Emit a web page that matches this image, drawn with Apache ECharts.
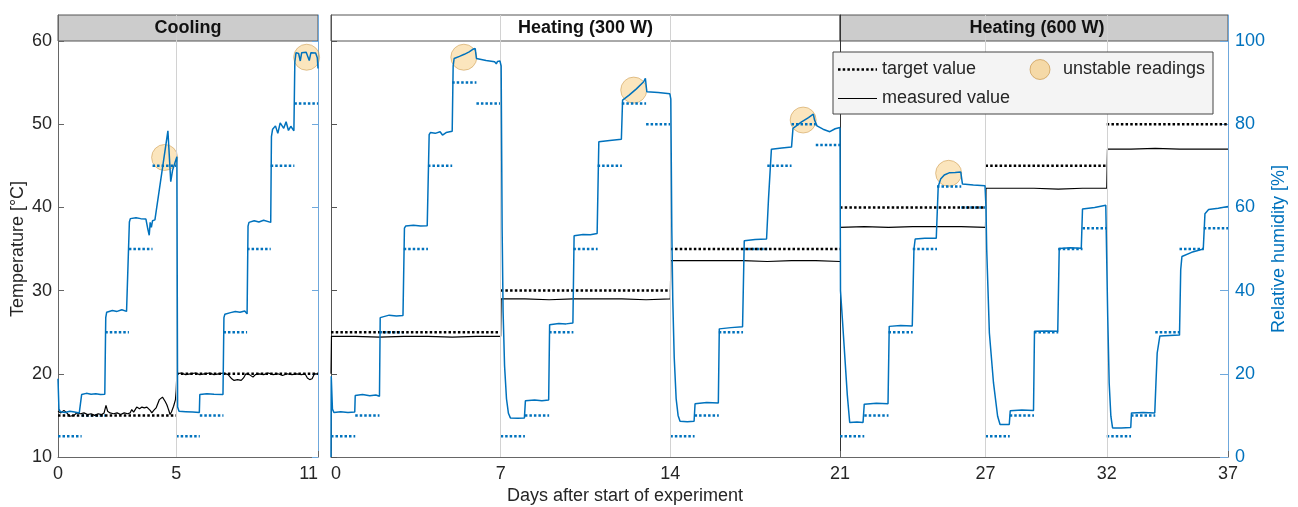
<!DOCTYPE html>
<html>
<head>
<meta charset="utf-8">
<script src="https://cdn.jsdelivr.net/npm/echarts@6/dist/echarts.min.js"></script>
<style>
  html, body { margin: 0; padding: 0; background: #fff; }
  #chart { width: 1298px; height: 507px; }
</style>
</head>
<body>
<div id="chart"></div>
<script>
// ---------------- data ----------------
// temperature set points: [startDay, endDay, °C]
const coolTempTarget = [[0, 5, 15], [5, 11, 20]];
const heat300TempTarget = [[0, 7, 25], [7, 14, 30], [14, 21, 35]];
const heat600TempTarget = [[21, 27, 40], [27, 32, 45], [32, 37, 50]];

// humidity set points, one value per day
const coolHumTarget = [5, 10, 30, 50, 70, 5, 10, 30, 50, 70, 85];                       // from day 0
const heat300HumTarget = [5, 10, 30, 50, 70, 90, 85, 5, 10, 30, 50, 70, 85, 80, 5, 10, 30, 50, 70, 80, 75]; // from day 0
const heat600HumTarget = [5, 10, 30, 50, 65, 60, 5, 10, 30, 50, 55, 5, 10, 30, 50, 55];  // from day 21
const heat600StartDay = 21;

// measured temperature [day, °C]
const coolTempMeasured = [
  [0, 15.5], [0.12, 15.3], [0.25, 15.6], [0.37, 15.3], [0.5, 14.9], [0.58, 14.7], [0.68, 15.0], [0.79, 15.3],
  [0.95, 15.2], [1.1, 15.3], [1.25, 15.1], [1.4, 15.2], [1.55, 15.0], [1.7, 15.2], [1.85, 15.1], [1.95, 15.3],
  [2.03, 16.2], [2.1, 15.5], [2.2, 15.3], [2.35, 15.2], [2.5, 15.3], [2.65, 15.1], [2.8, 15.3], [2.95, 15.2],
  [3.05, 15.3], [3.12, 15.7], [3.2, 15.4], [3.33, 16.0], [3.45, 15.8], [3.55, 16.0], [3.65, 15.9], [3.76, 16.0],
  [3.83, 16.2], [3.9, 15.6], [3.97, 15.3], [4.05, 15.6], [4.15, 15.9], [4.22, 15.8], [4.29, 16.9], [4.36, 17.1],
  [4.42, 17.2], [4.48, 17.0], [4.53, 16.7], [4.6, 16.3], [4.64, 16.0], [4.7, 15.5], [4.74, 15.1], [4.8, 15.4],
  [4.89, 16.1], [4.97, 16.9], [5.0, 18.0], [5.03, 20.0], [5.2, 20.1], [5.4, 19.9], [5.6, 20.0], [5.8, 20.1],
  [6.0, 19.9], [6.2, 20.0], [6.4, 20.1], [6.6, 19.9], [6.8, 20.0], [7.0, 20.1], [7.2, 19.9], [7.35, 19.4],
  [7.45, 19.2], [7.6, 19.3], [7.75, 19.2], [7.85, 19.5], [7.95, 20.0], [8.1, 19.9], [8.25, 19.6], [8.35, 19.9],
  [8.5, 20.0], [8.7, 19.9], [8.9, 20.1], [9.1, 19.9], [9.3, 20.0], [9.5, 19.8], [9.7, 20.0], [9.9, 19.9],
  [10.1, 20.0], [10.3, 19.9], [10.45, 20.0], [10.55, 19.5], [10.65, 19.3], [10.75, 19.4], [10.85, 20.0], [11, 20.0]
];
const heat300TempMeasured = [
  [0, 20.0], [0.02, 24.5], [1, 24.5], [2, 24.4], [3, 24.5], [4, 24.5], [5, 24.4], [6, 24.5], [7, 24.5],
  [7.02, 29.0], [8, 29.0], [9, 28.9], [10, 29.0], [11, 29.0], [12, 29.0], [13, 28.9], [14, 29.0],
  [14.02, 33.6], [15, 33.6], [16, 33.6], [17, 33.6], [18, 33.5], [19, 33.6], [20, 33.6], [21, 33.5]
];
const heat600TempMeasured = [
  [21, 37.6], [21.01, 37.7], [22, 37.7], [23, 37.6], [24, 37.7], [25, 37.7], [26, 37.7], [27, 37.6],
  [27.02, 42.3], [28, 42.3], [29, 42.3], [30, 42.2], [31, 42.3], [32, 42.3],
  [32.03, 47.0], [33, 47.0], [34, 47.1], [35, 47.0], [36, 47.0], [37, 47.0]
];

// measured relative humidity [day, %]
const coolHumMeasured = [
  [0, 18.8], [0.04, 11.5], [0.1, 10.9], [0.3, 10.7], [0.5, 11.0], [0.7, 10.8], [0.9, 10.6], [0.98, 10.8],
  [1.0, 15.0], [1.2, 15.3], [1.4, 15.1], [1.6, 15.2], [1.8, 15.0], [1.98, 15.1],
  [2.02, 33.5], [2.06, 34.8], [2.3, 35.2], [2.5, 35.0], [2.7, 35.4], [2.9, 35.0], [2.98, 34.6],
  [3.02, 56.5], [3.06, 57.3], [3.3, 57.5], [3.5, 57.3], [3.72, 57.2], [3.8, 54.8], [3.86, 53.3], [3.9, 56.4],
  [3.95, 55.2], [4.0, 56.8], [4.1, 57.0], [4.65, 78.4], [4.77, 66.2], [4.85, 69.0], [5.03, 72.2],
  [5.06, 12.0], [5.12, 11.0], [5.4, 10.9], [5.7, 10.8], [5.98, 10.7],
  [6.0, 15.0], [6.3, 15.2], [6.6, 15.1], [6.98, 15.0],
  [7.02, 33.5], [7.06, 34.3], [7.3, 34.7], [7.5, 35.0], [7.7, 34.8], [7.9, 35.1], [8.0, 34.4],
  [8.04, 55.5], [8.08, 56.4], [8.3, 56.8], [8.5, 56.5], [8.7, 56.9], [9.0, 56.4],
  [9.03, 77.0], [9.08, 78.8], [9.2, 79.6], [9.3, 77.8], [9.4, 80.3], [9.55, 79.0], [9.65, 80.6], [9.75, 78.5],
  [9.85, 79.5], [9.98, 78.4],
  [10.02, 95.0], [10.07, 97.2], [10.18, 97.0], [10.25, 95.2], [10.31, 97.2], [10.5, 97.3], [10.63, 95.3],
  [10.7, 97.2], [10.9, 97.1], [10.97, 96.0], [11.0, 93.4]
];
const heat300HumMeasured = [
  [0, 0], [0.01, 19.4], [0.06, 11.5], [0.12, 10.7], [0.4, 10.9], [0.7, 10.7], [0.98, 10.8],
  [1.0, 14.8], [1.3, 15.0], [1.6, 14.7], [1.85, 14.9], [2.0, 14.6],
  [2.03, 33.5], [2.07, 33.9], [2.4, 34.1], [2.7, 33.9], [2.97, 34.0],
  [3.03, 55.0], [3.08, 55.5], [3.4, 55.7], [3.7, 55.5], [3.97, 55.6],
  [4.05, 77.5], [4.1, 78.0], [4.3, 77.8], [4.5, 78.2], [4.6, 77.4], [4.75, 78.0], [5.0, 78.3],
  [5.04, 94.0], [5.08, 95.8], [5.3, 96.3], [5.5, 96.8], [5.7, 97.4], [5.85, 98.0], [5.95, 98.2],
  [6.0, 95.8], [6.03, 95.4], [6.4, 95.3], [6.75, 95.0], [6.82, 94.5], [6.87, 95.1], [6.97, 95.2],
  [7.02, 94.0], [7.06, 55], [7.1, 35], [7.16, 22], [7.24, 14], [7.32, 10.5], [7.4, 9.4], [7.7, 9.3], [7.98, 9.4],
  [8.02, 13.5], [8.4, 13.7], [8.7, 13.5], [8.98, 13.7],
  [9.02, 31.8], [9.4, 32.1], [9.7, 32.0], [9.98, 32.2],
  [10.03, 53.2], [10.4, 53.5], [10.7, 53.4], [10.98, 53.7],
  [11.05, 75.8], [11.5, 76.1], [11.98, 76.4],
  [12.03, 85.8], [12.3, 87.0], [12.6, 88.5], [12.9, 90.2], [12.97, 91.0],
  [13.03, 87.8], [13.5, 87.6], [13.98, 87.3],
  [14.02, 86.0], [14.06, 55], [14.1, 38], [14.16, 24], [14.24, 14], [14.32, 10], [14.4, 8.6], [14.7, 8.5], [14.98, 8.6],
  [15.02, 12.8], [15.5, 13.1], [15.98, 13.0],
  [16.02, 30.8], [16.5, 31.1], [16.98, 31.3],
  [17.05, 52.0], [17.5, 52.3], [17.97, 52.4],
  [18.05, 62], [18.17, 74.0], [18.6, 74.3], [19.0, 74.5],
  [19.06, 79.0], [19.4, 80.5], [19.7, 81.6], [19.9, 82.4], [19.95, 81.0],
  [20.05, 79.6], [20.3, 78.8], [20.58, 78.2], [20.8, 78.9], [21, 79.2]
];
const heat600HumMeasured = [
  [21, 79.2], [21.02, 40], [21.1, 33], [21.2, 24], [21.3, 15], [21.4, 8.3], [21.7, 8.4], [21.95, 8.3],
  [22.0, 12.7], [22.5, 12.9], [22.98, 12.8],
  [23.03, 31.4], [23.5, 31.6], [23.98, 31.5],
  [24.05, 50], [24.1, 52.4], [24.5, 52.6], [24.97, 52.6],
  [25.05, 65.0], [25.15, 66.8], [25.3, 67.8], [25.5, 68.3], [25.75, 68.4], [25.98, 68.5],
  [26.05, 65.6], [26.5, 65.4], [26.98, 65.2],
  [27.02, 60], [27.05, 49.8], [27.16, 29.8], [27.33, 17.8], [27.5, 9.8], [27.6, 7.8], [27.8, 7.8], [27.98, 7.8],
  [28.02, 11.1], [28.5, 11.3], [28.98, 11.2],
  [29.02, 30.2], [29.5, 30.3], [29.98, 30.2],
  [30.04, 50.1], [30.5, 50.3], [30.95, 50.2],
  [31.0, 59.6], [31.5, 60.0], [31.96, 60.5],
  [32.04, 33.8], [32.1, 17.8], [32.17, 9.8], [32.24, 7.0], [32.6, 7.0], [32.99, 7.1],
  [33.02, 10.6], [33.5, 10.7], [33.98, 10.6],
  [34.03, 18], [34.08, 25], [34.19, 29.1], [34.6, 29.2], [35.0, 29.3],
  [35.05, 45], [35.1, 48.2], [35.5, 49.2], [35.98, 50.0],
  [36.05, 58.5], [36.2, 59.5], [36.6, 59.8], [37, 60.2]
];

// periods with unstable sensor readings [day, °C]
const coolUnstable = [[4.51, 46.0], [10.52, 58.05]];
const heat300Unstable = [[5.48, 58.05], [12.49, 54.1], [19.48, 50.5]];
const heat600Unstable = [[25.48, 44.1]];

// axis ticks
const coolDayTicks = [0, 5, 11];
const heat300DayTicks = [0, 7, 14, 21];
const heat600DayTicks = [21, 27, 32, 37];
const heat600DayLabels = [27, 32, 37];
const tempTicks = [10, 20, 30, 40, 50, 60];
const humTicks = [0, 20, 40, 60, 80, 100];
const coolDividers = [5];
const heat300Dividers = [7, 14];
const heat600Dividers = [27, 32];

// ---------------- helpers ----------------
function dailySteps(values, startDay) {
  const out = [];
  values.forEach((v, i) => {
    out.push([startDay + i, v], [startDay + i + 1, v], [startDay + i + 1, '-']);
  });
  return out;
}
function rangeSteps(steps) {
  const out = [];
  steps.forEach(([a, b, v]) => out.push([a, v], [b, v], [b, '-']));
  return out;
}

// ---------------- layout / style ----------------
const FONT = '"Liberation Sans", Arial, Helvetica, sans-serif';
const BLUE = '#0072BD';
const BLUE_AXIS = '#6fa8dc';
const AXIS = '#666';
const TXT = '#262626';
const GRID_TOP = 15;          // box top (header included)
const GRID_H = 442;           // to the bottom axis
const HEADER_H = 26;
const PLOT_H = GRID_H - HEADER_H;
const TMAX = 60 + HEADER_H * 50 / PLOT_H;   // temperature axis 10..60 in the plot area
const HMAX = 100 + HEADER_H * 100 / PLOT_H; // humidity axis 0..100 in the plot area

const panels = [
  { left: 58, width: 260 },
  { left: 331, width: 509 },
  { left: 840, width: 388 }
];

const chart = echarts.init(document.getElementById('chart'), null, { renderer: 'canvas' });

function xAxisFor(i, min, max, ticks, labels, labelExtra) {
  return {
    gridIndex: i, type: 'value', min, max,
    axisLine: { show: true, onZero: false, lineStyle: { color: AXIS, width: 1 } },
    axisTick: { show: true, inside: true, length: 6, customValues: ticks, lineStyle: { color: AXIS } },
    axisLabel: Object.assign({ customValues: labels, fontSize: 18, color: TXT, margin: 8, fontFamily: FONT }, labelExtra || {}),
    splitLine: { show: false }
  };
}

const targetLine = { color: '#000', width: 2.5, type: [2.5, 2.2] };
const humTargetLine = { color: BLUE, width: 2.5, type: [2.5, 2.0] };

function panelSeries(idx, tempTarget, humTarget, tempMeas, humMeas, unstable, dividers) {
  const tY = idx * 2, hY = idx * 2 + 1;
  return [
    {
      type: 'line', name: 'dividers', xAxisIndex: idx, yAxisIndex: tY, data: [], z: 1, silent: true,
      markLine: {
        silent: true, symbol: 'none', label: { show: false }, animation: false,
        lineStyle: { color: '#d2d2d2', width: 1, type: 'solid' },
        data: dividers.map(d => ({ xAxis: d }))
      }
    },
    {
      type: 'scatter', name: 'unstable readings', xAxisIndex: idx, yAxisIndex: tY, data: unstable,
      symbol: 'circle', symbolSize: 26, z: 2, silent: true,
      itemStyle: { color: 'rgba(245,190,90,0.5)', borderColor: 'rgba(190,130,40,0.55)', borderWidth: 1 }
    },
    {
      type: 'line', name: 'humidity target', xAxisIndex: idx, yAxisIndex: hY, data: humTarget,
      showSymbol: false, symbol: 'none', z: 3, lineStyle: humTargetLine, silent: true
    },
    {
      type: 'line', name: 'target value', xAxisIndex: idx, yAxisIndex: tY, data: tempTarget,
      showSymbol: false, symbol: 'none', z: 3, lineStyle: targetLine, silent: true
    },
    {
      type: 'line', name: 'measured value', xAxisIndex: idx, yAxisIndex: tY, data: tempMeas,
      showSymbol: false, symbol: 'none', z: 4, lineStyle: { color: '#000', width: 1.2 }, silent: true
    },
    {
      type: 'line', name: 'humidity', xAxisIndex: idx, yAxisIndex: hY, data: humMeas,
      showSymbol: false, symbol: 'none', z: 5, lineStyle: { color: BLUE, width: 1.5 }, silent: true
    }
  ];
}

const option = {
  animation: false,
  textStyle: { fontFamily: FONT },
  grid: panels.map(p => ({
    left: p.left, width: p.width, top: GRID_TOP, height: GRID_H,
    containLabel: false, outerBoundsMode: 'none'
  })),
  xAxis: [
    xAxisFor(0, 0, 11, coolDayTicks, coolDayTicks, { alignMaxLabel: 'right' }),
    xAxisFor(1, 0, 21, heat300DayTicks, heat300DayTicks, { alignMinLabel: 'left' }),
    xAxisFor(2, 21, 37, heat600DayTicks, heat600DayLabels, {})
  ],
  yAxis: [
    // cooling: temperature (left) and humidity (right)
    {
      gridIndex: 0, type: 'value', min: 10, max: TMAX, position: 'left',
      axisLine: { show: true, lineStyle: { color: AXIS } },
      axisTick: { show: true, inside: true, length: 6, customValues: tempTicks, lineStyle: { color: AXIS } },
      axisLabel: { customValues: tempTicks, fontSize: 18, color: TXT, margin: 6, fontFamily: FONT },
      splitLine: { show: false },
      name: 'Temperature [°C]', nameLocation: 'middle', nameGap: 31,
      nameTextStyle: { fontSize: 18, color: TXT, fontFamily: FONT, padding: [0, 26, 0, 0] }
    },
    {
      gridIndex: 0, type: 'value', min: 0, max: HMAX, position: 'right',
      axisLine: { show: true, lineStyle: { color: BLUE_AXIS } },
      axisTick: { show: true, inside: true, length: 6, customValues: humTicks, lineStyle: { color: BLUE_AXIS } },
      axisLabel: { show: false }, splitLine: { show: false }
    },
    // heating 300 W
    {
      gridIndex: 1, type: 'value', min: 10, max: TMAX, position: 'left',
      axisLine: { show: true, lineStyle: { color: '#555' } },
      axisTick: { show: true, inside: true, length: 6, customValues: tempTicks, lineStyle: { color: '#555' } },
      axisLabel: { show: false }, splitLine: { show: false }
    },
    { gridIndex: 1, type: 'value', min: 0, max: HMAX, show: false },
    // heating 600 W
    {
      gridIndex: 2, type: 'value', min: 10, max: TMAX, position: 'left',
      axisLine: { show: true, lineStyle: { color: '#333' } },
      axisTick: { show: false }, axisLabel: { show: false }, splitLine: { show: false }
    },
    {
      gridIndex: 2, type: 'value', min: 0, max: HMAX, position: 'right',
      axisLine: { show: true, lineStyle: { color: BLUE_AXIS } },
      axisTick: { show: true, inside: true, length: 8, customValues: humTicks, lineStyle: { color: BLUE_AXIS } },
      axisLabel: { customValues: humTicks, fontSize: 18, color: BLUE, margin: 7, fontFamily: FONT },
      splitLine: { show: false },
      name: 'Relative humidity [%]', nameLocation: 'middle', nameGap: 42,
      nameTextStyle: { fontSize: 18, color: BLUE, fontFamily: FONT, padding: [0, 26, 0, 0] }
    }
  ],
  series: [
    ...panelSeries(0, rangeSteps(coolTempTarget), dailySteps(coolHumTarget, 0),
      coolTempMeasured, coolHumMeasured, coolUnstable, coolDividers),
    ...panelSeries(1, rangeSteps(heat300TempTarget), dailySteps(heat300HumTarget, 0),
      heat300TempMeasured, heat300HumMeasured, heat300Unstable, heat300Dividers),
    ...panelSeries(2, rangeSteps(heat600TempTarget), dailySteps(heat600HumTarget, heat600StartDay),
      heat600TempMeasured, heat600HumMeasured, heat600Unstable, heat600Dividers)
  ],
  graphic: [
    // panel headers
    { type: 'rect', z: 0, silent: true, shape: { x: 58, y: 15, width: 260, height: 26 },
      style: { fill: '#cccccc', stroke: '#555', lineWidth: 1 } },
    { type: 'rect', z: 0, silent: true, shape: { x: 331, y: 15, width: 509, height: 26 },
      style: { fill: '#ffffff', stroke: '#555', lineWidth: 1 } },
    { type: 'rect', z: 0, silent: true, shape: { x: 840, y: 15, width: 388, height: 26 },
      style: { fill: '#cccccc', stroke: '#555', lineWidth: 1 } },
    { type: 'text', z: 6, silent: true, x: 188, y: 28,
      style: { text: 'Cooling', fontSize: 18, fontWeight: 'bold', fontFamily: FONT, fill: '#111', align: 'center', verticalAlign: 'middle' } },
    { type: 'text', z: 6, silent: true, x: 585.5, y: 28,
      style: { text: 'Heating (300 W)', fontSize: 18, fontWeight: 'bold', fontFamily: FONT, fill: '#111', align: 'center', verticalAlign: 'middle' } },
    { type: 'text', z: 6, silent: true, x: 1037, y: 28,
      style: { text: 'Heating (600 W)', fontSize: 18, fontWeight: 'bold', fontFamily: FONT, fill: '#111', align: 'center', verticalAlign: 'middle' } },
    // shared x axis title
    { type: 'text', z: 6, silent: true, x: 625, y: 496,
      style: { text: 'Days after start of experiment', fontSize: 18, fontFamily: FONT, fill: TXT, align: 'center', verticalAlign: 'middle' } },
    // legend
    { type: 'rect', z: 10, silent: true, shape: { x: 833, y: 52, width: 380, height: 62 },
      style: { fill: '#f4f4f4', stroke: '#444', lineWidth: 1 } },
    { type: 'line', z: 11, silent: true, shape: { x1: 838, y1: 69.5, x2: 877, y2: 69.5 },
      style: { stroke: '#000', lineWidth: 2.5, lineDash: [2.5, 2.2] } },
    { type: 'text', z: 11, silent: true, x: 882, y: 69.5,
      style: { text: 'target value', fontSize: 18, fontFamily: FONT, fill: TXT, align: 'left', verticalAlign: 'middle' } },
    { type: 'line', z: 11, silent: true, shape: { x1: 838, y1: 98.5, x2: 877, y2: 98.5 },
      style: { stroke: '#000', lineWidth: 1.2 } },
    { type: 'text', z: 11, silent: true, x: 882, y: 98.5,
      style: { text: 'measured value', fontSize: 18, fontFamily: FONT, fill: TXT, align: 'left', verticalAlign: 'middle' } },
    { type: 'circle', z: 11, silent: true, shape: { cx: 1040, cy: 69.5, r: 10 },
      style: { fill: 'rgba(245,190,90,0.5)', stroke: 'rgba(190,130,40,0.55)', lineWidth: 1 } },
    { type: 'text', z: 11, silent: true, x: 1063, y: 69.5,
      style: { text: 'unstable readings', fontSize: 18, fontFamily: FONT, fill: TXT, align: 'left', verticalAlign: 'middle' } }
  ]
};

chart.setOption(option);
</script>
</body>
</html>
